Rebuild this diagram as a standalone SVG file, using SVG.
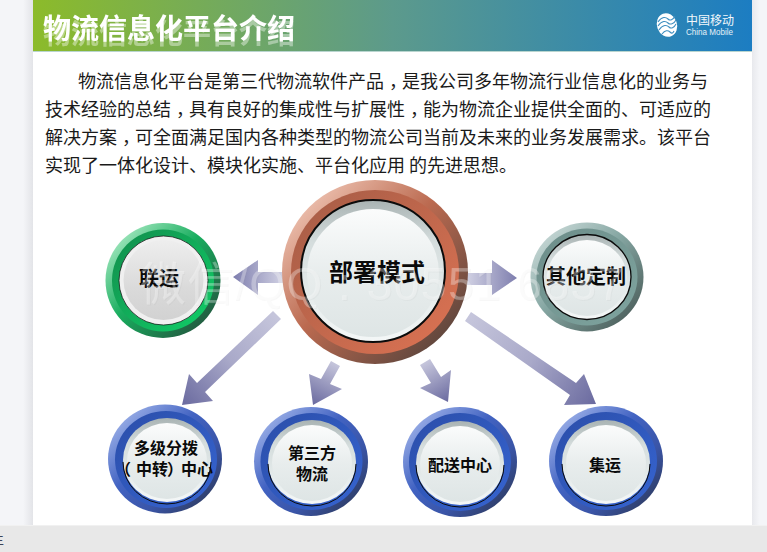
<svg xmlns="http://www.w3.org/2000/svg" width="767" height="552" viewBox="0 0 767 552">
<defs>
<linearGradient id="hdr" x1="0" x2="1" y1="0" y2="0"><stop offset="0" stop-color="#8cbb2a"/><stop offset=".5" stop-color="#5c9a8c"/><stop offset="1" stop-color="#1c7dc2"/></linearGradient>
<linearGradient id="sideL" x1="0" x2="1" y1="0" y2="0"><stop offset="0" stop-color="#f4f5f8"/><stop offset=".7" stop-color="#f4f5f8"/><stop offset="1" stop-color="#e3e4e8"/></linearGradient>
<linearGradient id="sideR" x1="0" x2="1" y1="0" y2="0"><stop offset="0" stop-color="#e8e9ed"/><stop offset=".5" stop-color="#f4f5f8"/><stop offset="1" stop-color="#f4f5f8"/></linearGradient>
<linearGradient id="face" x1="0" x2="0" y1="0" y2="1"><stop offset="0" stop-color="#fbfcfc"/><stop offset=".5" stop-color="#e8eded"/><stop offset="1" stop-color="#dee5e5"/></linearGradient>
<linearGradient id="faceG" x1="0" x2="0" y1="0" y2="1"><stop offset="0" stop-color="#eeeeee"/><stop offset=".6" stop-color="#dadada"/><stop offset="1" stop-color="#d2d2d2"/></linearGradient>
<linearGradient id="rim" x1="0" x2="0" y1="0" y2="1"><stop offset="0" stop-color="#a9b3b3"/><stop offset=".3" stop-color="#d5dddd"/><stop offset=".7" stop-color="#e6ecec"/><stop offset="1" stop-color="#f4f7f7"/></linearGradient>
<linearGradient id="oRed" x1=".1" x2=".9" y1=".1" y2=".9"><stop offset="0" stop-color="#efc4b3"/><stop offset=".45" stop-color="#bb6a50"/><stop offset="1" stop-color="#59443c"/></linearGradient>
<linearGradient id="mRed" x1=".1" x2=".9" y1=".1" y2=".9"><stop offset="0" stop-color="#aa5e47"/><stop offset="1" stop-color="#d87152"/></linearGradient>
<linearGradient id="oGreen" x1=".1" x2=".9" y1=".1" y2=".9"><stop offset="0" stop-color="#a4e8c0"/><stop offset=".45" stop-color="#18ad5e"/><stop offset="1" stop-color="#23573f"/></linearGradient>
<linearGradient id="mGreen" x1=".1" x2=".9" y1=".1" y2=".9"><stop offset="0" stop-color="#12934f"/><stop offset="1" stop-color="#10c865"/></linearGradient>
<linearGradient id="oGrey" x1=".1" x2=".9" y1=".1" y2=".9"><stop offset="0" stop-color="#c7d8d6"/><stop offset=".45" stop-color="#85a6a2"/><stop offset="1" stop-color="#4c5f5c"/></linearGradient>
<linearGradient id="mGrey" x1=".1" x2=".9" y1=".1" y2=".9"><stop offset="0" stop-color="#6e8f8b"/><stop offset="1" stop-color="#7da29d"/></linearGradient>
<linearGradient id="oBlue" x1=".1" x2=".9" y1=".1" y2=".9"><stop offset="0" stop-color="#9db1e8"/><stop offset=".4" stop-color="#4263c2"/><stop offset=".7" stop-color="#3a55a8"/><stop offset="1" stop-color="#2e3c63"/></linearGradient>
<linearGradient id="mBlue" x1=".1" x2=".9" y1=".1" y2=".9"><stop offset="0" stop-color="#2c50ad"/><stop offset="1" stop-color="#3562cd"/></linearGradient>
<linearGradient id="aL" gradientUnits="userSpaceOnUse" x1="282" y1="277" x2="233" y2="277"><stop offset="0" stop-color="#cfcfe2"/><stop offset="1" stop-color="#7e7eae"/></linearGradient>
<linearGradient id="aR" gradientUnits="userSpaceOnUse" x1="468" y1="278" x2="517" y2="278"><stop offset="0" stop-color="#cfcfe2"/><stop offset="1" stop-color="#7e7eae"/></linearGradient>
<linearGradient id="a1" gradientUnits="userSpaceOnUse" x1="277" y1="315" x2="182" y2="405"><stop offset="0" stop-color="#c6c6dc"/><stop offset=".5" stop-color="#a9a9c9"/><stop offset="1" stop-color="#6a6a9f"/></linearGradient>
<linearGradient id="a2" gradientUnits="userSpaceOnUse" x1="335" y1="363" x2="313" y2="405"><stop offset="0" stop-color="#c6c6dc"/><stop offset="1" stop-color="#6a6a9f"/></linearGradient>
<linearGradient id="a3" gradientUnits="userSpaceOnUse" x1="425" y1="362" x2="448" y2="402"><stop offset="0" stop-color="#c6c6dc"/><stop offset="1" stop-color="#6a6a9f"/></linearGradient>
<linearGradient id="a4" gradientUnits="userSpaceOnUse" x1="468" y1="316" x2="596" y2="404"><stop offset="0" stop-color="#c6c6dc"/><stop offset=".5" stop-color="#a9a9c9"/><stop offset="1" stop-color="#6a6a9f"/></linearGradient>
<filter id="reflect" x="-5%" y="-10%" width="110%" height="140%"><feGaussianBlur in="SourceAlpha" stdDeviation=".6" result="b"/><feOffset in="b" dy="5" result="o"/><feFlood flood-color="#ffffff" flood-opacity=".4"/><feComposite in2="o" operator="in" result="s"/><feMerge><feMergeNode in="s"/><feMergeNode in="SourceGraphic"/></feMerge></filter>
<filter id="wm" x="-5%" y="-20%" width="110%" height="140%"><feOffset in="SourceAlpha" dx="1.200" dy="1.200" result="o"/><feFlood flood-color="#8a8a8a" flood-opacity=".22"/><feComposite in2="o" operator="in" result="s"/><feMerge><feMergeNode in="s"/><feMergeNode in="SourceGraphic"/></feMerge></filter>
</defs>
<style>
text{font-family:"Noto Sans CJK SC","Liberation Sans",sans-serif}
.body{font-size:18px;fill:#1a1a1a}
.lb{font-weight:700;fill:#0a0a0a}
.l16{font-size:16px}.l20{font-size:20px}
.ink{fill:none;stroke:#0b0b0b}
.shaft{stroke:none}
</style>
<g id="page">
<rect width="767" height="552" fill="#f4f5f8"/>
<rect x="0" width="33" height="525" fill="url(#sideL)"/>
<rect x="752" width="15" height="525" fill="url(#sideR)"/>
<rect x="33" y="0" width="719" height="525" fill="#ffffff"/>
<rect x="0" y="525" width="767" height="27" fill="#e8e8e8"/>
<rect x="0" y="525" width="767" height="1" fill="#f1f1f1"/>
<text x="-9" y="544" font-size="13" fill="#3c4456">主</text>
</g>
<g id="header">
<rect x="33" y="0" width="719" height="51" fill="url(#hdr)"/>
<rect x="33" y="51" width="719" height="1" fill="#b9d5cf"/>
<text x="43" y="39" font-size="28" font-weight="700" fill="#ffffff" filter="url(#reflect)">物流信息化平台介绍</text>
</g>
<g id="logo">
<ellipse cx="667" cy="25" rx="10" ry="12" fill="#ffffff" transform="rotate(-20 667 25)"/>
<g fill="none" stroke="#3f8fc0" stroke-width="1.100">
<path d="M658 22c4-6 8-5 10-3s5 1 7-3"/>
<path d="M658 26c4-6 8-5 10-3s6 1 8-3"/>
<path d="M659 30c4-6 8-5 10-3s5 1 7-3"/>
<path d="M662 34c3-4 6-4 8-2s3 1 4-1"/>
</g>
<text x="686" y="25" font-size="12" fill="#f1f7fb">中国移动</text>
<text x="686" y="35" font-size="9" fill="#e4f0f7" textLength="47" lengthAdjust="spacingAndGlyphs" style="font-family:'Liberation Sans',sans-serif">China Mobile</text>
</g>
<g id="intro">
<text class="body" x="78" y="88">物流信息化平台是第三代物流软件产品<tspan dx="5">，</tspan><tspan dx="-5">是我公司多年物流行业信息化的业务与</tspan></text>
<text class="body" x="45" y="116">技术经验的总结<tspan dx="5">，</tspan><tspan dx="-5">具有良好的集成性与扩展性</tspan><tspan dx="5">，</tspan><tspan dx="-5">能为物流企业提供全面的、可适应的</tspan></text>
<text class="body" x="45" y="144">解决方案<tspan dx="5">，</tspan><tspan dx="-5">可全面满足国内各种类型的物流公司当前及未来的业务发展需求。该平台</tspan></text>
<text class="body" x="45" y="172">实现了一体化设计、模块化实施、平台化应用 的先进思想。</text>
</g>
<g id="connectors">
<path class="shaft" fill="url(#aL)" d="M233 277L258 260V272H284V283H258V295Z"/>
<path class="shaft" fill="url(#aR)" d="M517 278L492 260V273H466V285H492V295Z"/>
<path class="shaft" fill="url(#a1)" d="M273 311L281 319L205 392L213 401L182 405L189 374L197 383Z"/>
<path class="shaft" fill="url(#a2)" d="M331 361L340 366L330 384L342 389L313 405L309 374L321 379Z"/>
<path class="shaft" fill="url(#a3)" d="M420 365L430 359L441 377L451 370L448 402L420 388L431 383Z"/>
<path class="shaft" fill="url(#a4)" d="M471 312L465 321L570 395L564 405L596 404L584 374L576 383Z"/>
</g>
<g id="n-main">
<ellipse cx="375" cy="272" rx="93" ry="92" fill="url(#oRed)"/>
<ellipse cx="375" cy="272" rx="84" ry="82" fill="url(#mRed)"/>
<ellipse cx="373" cy="271" rx="72.500" ry="71.500" fill="url(#rim)"/>
<ellipse cx="373" cy="273" rx="66" ry="64" fill="url(#face)"/>
<ellipse class="ink" cx="373" cy="271" rx="72" ry="71" stroke-width="2"/>
<text class="lb" x="329" y="281" font-size="24">部署模式</text>
</g>
<g id="n-lianyun">
<ellipse cx="163" cy="280.500" rx="57.500" ry="57.500" fill="url(#oGreen)"/>
<ellipse cx="163" cy="280.500" rx="51" ry="51" fill="url(#mGreen)"/>
<ellipse cx="163.500" cy="280.500" rx="44.500" ry="44.500" fill="#f0f0f0"/>
<ellipse cx="163.500" cy="280" rx="40" ry="40" fill="url(#faceG)"/>
<ellipse class="ink" cx="163.500" cy="280.500" rx="44.500" ry="44.500" stroke-width="1" opacity=".7"/>
<text class="lb l20" x="139" y="286">联运</text>
</g>
<g id="n-other">
<ellipse cx="587" cy="277" rx="56.500" ry="54.500" fill="url(#oGrey)"/>
<ellipse cx="587" cy="277" rx="50.500" ry="48.500" fill="url(#mGrey)"/>
<ellipse cx="587" cy="277" rx="44" ry="42.500" fill="url(#rim)"/>
<ellipse cx="587" cy="278" rx="40" ry="38" fill="url(#face)"/>
<ellipse class="ink" cx="587" cy="277" rx="44" ry="42.500" stroke-width="1.300"/>
<text class="lb l20" x="546" y="284">其他定制</text>
</g>
<g id="n-duoji">
<ellipse cx="165" cy="459" rx="57" ry="54.500" fill="url(#oBlue)"/>
<ellipse cx="166" cy="459.500" rx="51" ry="48.500" fill="url(#mBlue)"/>
<ellipse cx="167" cy="460" rx="44" ry="42" fill="url(#rim)"/>
<ellipse cx="167" cy="461" rx="40" ry="38" fill="url(#face)"/>
<path class="ink" d="M123 462A44 42 0 0 0 211 462" stroke-width="1"/>
<text class="lb l16" x="134" y="454">多级分拨</text>
<text class="lb l16" y="475"><tspan x="115">（</tspan><tspan x="136">中转</tspan><tspan x="167">）</tspan><tspan x="181">中心</tspan></text>
</g>
<g id="n-third">
<ellipse cx="311" cy="461.500" rx="57" ry="54.500" fill="url(#oBlue)"/>
<ellipse cx="311.500" cy="461.500" rx="51" ry="48.500" fill="url(#mBlue)"/>
<ellipse cx="312" cy="462" rx="44" ry="42" fill="url(#rim)"/>
<ellipse cx="312" cy="463" rx="40" ry="38" fill="url(#face)"/>
<path class="ink" d="M268 464A44 42 0 0 0 356 464" stroke-width="1"/>
<text class="lb l16" x="288" y="459">第三方</text>
<text class="lb l16" x="296" y="480">物流</text>
</g>
<g id="n-peisong">
<ellipse cx="460" cy="462" rx="57" ry="55" fill="url(#oBlue)"/>
<ellipse cx="460" cy="462" rx="51" ry="49" fill="url(#mBlue)"/>
<ellipse cx="460" cy="463" rx="44" ry="42" fill="url(#rim)"/>
<ellipse cx="460" cy="464" rx="40" ry="38" fill="url(#face)"/>
<path class="ink" d="M416 465A44 42 0 0 0 504 465" stroke-width="1"/>
<text class="lb l16" x="428" y="471">配送中心</text>
</g>
<g id="n-jiyun">
<ellipse cx="606" cy="461" rx="57" ry="55" fill="url(#oBlue)"/>
<ellipse cx="606" cy="461" rx="51" ry="49" fill="url(#mBlue)"/>
<ellipse cx="606" cy="462" rx="44" ry="42" fill="url(#rim)"/>
<ellipse cx="606" cy="463" rx="40" ry="38" fill="url(#face)"/>
<path class="ink" d="M562 464A44 42 0 0 0 650 464" stroke-width="1"/>
<text class="lb l16" x="589" y="471">集运</text>
</g>
<g id="watermark">
<text x="140" y="300" font-size="46" letter-spacing="1.500" fill="#ffffff" fill-opacity=".3" filter="url(#wm)" style="font-family:'Liberation Sans','Noto Sans CJK SC',sans-serif">微信/QQ : 30551 6837</text>
</g>
</svg>
